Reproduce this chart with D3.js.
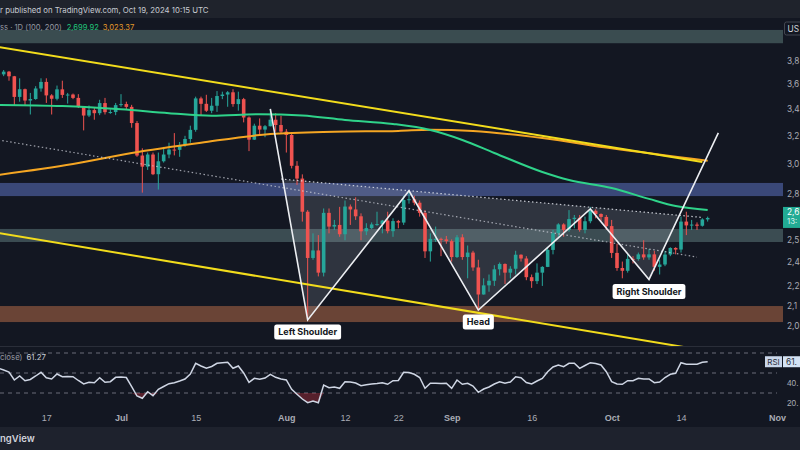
<!DOCTYPE html>
<html><head><meta charset="utf-8">
<script src="https://cdn.jsdelivr.net/npm/d3@7"></script>
<style>
html,body{margin:0;padding:0;background:#131722;}
svg{display:block;font-family:Inter,"Noto Sans",sans-serif;}
</style></head><body>
<svg id="c" width="800" height="450"></svg>
<script>
// ---------------- DATA ----------------
const firstDay = "2024-06-08", lastDay = "2024-10-19";
const opens = [3690,3683,3706,3667,3498,3560,3469,3481,3566,3620,3510,3483,3559,3514,3517,3490,3418,3352,3394,3370,3449,3378,3379,3433,3441,3419,3295,3059,2982,3066,2931,3019,3066,3101,3099,3134,3177,3244,3486,3443,3389,3428,3505,3517,3535,3441,3480,3337,3172,3275,3246,3271,3320,3280,3231,3206,2988,2902,2690,2420,2462,2340,2683,2600,2610,2555,2722,2704,2662,2572,2591,2613,2615,2636,2573,2633,2624,2763,2768,2746,2683,2457,2528,2528,2525,2515,2425,2537,2425,2450,2368,2226,2273,2297,2358,2387,2340,2361,2438,2417,2316,2295,2340,2371,2465,2561,2613,2580,2645,2653,2580,2632,2696,2676,2658,2603,2448,2365,2350,2415,2414,2440,2423,2440,2371,2384,2439,2476,2467,2630,2607,2612,2605,2643];
const highs = [3712,3720,3712,3670,3650,3565,3530,3585,3650,3650,3520,3590,3630,3530,3525,3520,3425,3430,3410,3475,3490,3400,3450,3520,3460,3435,3310,3110,3080,3080,3080,3120,3150,3220,3155,3200,3275,3500,3500,3515,3490,3545,3540,3545,3560,3540,3490,3345,3290,3330,3280,3400,3370,3350,3250,3220,3020,2930,2700,2560,2550,2710,2710,2640,2720,2760,2735,2780,2680,2620,2625,2690,2640,2690,2650,2640,2790,2820,2790,2760,2700,2560,2600,2535,2545,2525,2550,2555,2490,2460,2410,2310,2330,2380,2395,2390,2375,2460,2440,2430,2330,2390,2375,2480,2580,2620,2620,2700,2670,2670,2660,2720,2705,2680,2670,2640,2500,2400,2440,2430,2450,2520,2470,2460,2410,2460,2480,2480,2660,2690,2640,2625,2650,2660];
const lows = [3665,3668,3630,3430,3460,3430,3360,3475,3540,3450,3360,3470,3490,3445,3480,3410,3240,3340,3320,3355,3360,3365,3355,3420,3400,3260,3050,2810,2960,2925,2830,3010,3040,3060,3050,3120,3150,3230,3350,3380,3370,3380,3480,3420,3420,3390,3300,3090,3170,3200,3190,3270,3230,3220,3080,2970,2860,2630,2111,2410,2320,2320,2560,2580,2540,2520,2610,2640,2520,2550,2585,2605,2560,2560,2540,2590,2610,2740,2730,2660,2420,2400,2510,2430,2500,2400,2420,2410,2310,2350,2150,2225,2240,2270,2325,2280,2310,2330,2400,2300,2260,2280,2270,2370,2440,2540,2540,2570,2590,2570,2560,2620,2650,2630,2580,2420,2350,2310,2340,2390,2405,2410,2410,2350,2330,2375,2430,2440,2450,2550,2580,2580,2600,2630];
const closes = [3683,3706,3667,3498,3560,3469,3481,3566,3620,3510,3483,3559,3514,3517,3490,3418,3352,3394,3370,3449,3378,3379,3433,3441,3419,3295,3059,2982,3066,2931,3019,3066,3101,3099,3134,3177,3244,3486,3443,3389,3428,3505,3517,3535,3441,3480,3337,3172,3275,3246,3271,3320,3280,3231,3206,2988,2902,2690,2420,2462,2340,2683,2600,2610,2555,2722,2704,2662,2572,2591,2613,2615,2636,2573,2633,2624,2763,2768,2746,2683,2457,2528,2528,2525,2515,2425,2537,2425,2450,2368,2226,2273,2297,2358,2387,2340,2361,2438,2417,2316,2295,2340,2371,2465,2561,2613,2580,2645,2653,2580,2632,2696,2676,2658,2603,2448,2365,2350,2415,2414,2440,2423,2440,2371,2384,2439,2476,2467,2630,2607,2612,2605,2643,2652];
const rsiValues = [54.7,53,51,43,47,42.3,43.5,47,50.7,45.3,44,49,46.3,46.5,46.3,42.5,39,40.7,40.3,45.3,40.7,41.3,45.7,46,45.5,36.3,27,24.7,31.3,27.3,33.7,36.5,39.3,40.3,42,44,49,59.7,57,54.7,56.5,59.7,60.3,60.7,54.7,57,50,40.7,44.7,43.7,45,48.7,45.7,44,43,33.7,28.7,24,20.3,22,20.3,38,35.3,36,34.7,41.3,41,40,37.3,38.3,39,39.5,40.3,38.7,42.3,42.5,50.7,50.5,48.7,45.5,34.7,39.7,39.7,39.5,39.7,34.7,43,38.7,39.7,37,30.7,34,36,39,41.3,39.7,41,46.3,45.3,40.5,39,42,44.5,51.3,56,58,56.3,59.7,59.7,54.7,57.5,60.3,59.5,58,51.3,41.3,39,38.7,42.3,42.3,44.7,44,44,40.3,41,45.5,48.7,49.7,60.3,58.7,58.7,58.7,60.7,61.27];

const ma100Dates  = ["2024-06-08","2024-06-20","2024-07-01","2024-07-10","2024-07-18","2024-07-27","2024-08-04","2024-08-12","2024-08-21","2024-08-28","2024-09-03","2024-09-09","2024-09-18","2024-09-23","2024-10-01","2024-10-08","2024-10-13","2024-10-19"];
const ma100Values = [3434,3425,3400,3370,3350,3362,3352,3318,3288,3243,3170,3077,2946,2892,2840,2770,2725,2699.92];
const ma200Dates  = ["2024-06-08","2024-06-22","2024-07-03","2024-07-16","2024-07-29","2024-08-10","2024-08-22","2024-08-28","2024-09-05","2024-09-18","2024-10-01","2024-10-19"];
const ma200Values = [2926,3000,3077,3150,3213,3230,3236,3245,3236,3184,3110,3023.37];

// user drawings (date, price)
const upperTrendDates = ["2024-06-08","2024-10-18"], upperTrendPrices = [3921,3014];
const lowerTrendDates = ["2024-06-08","2024-10-15"], lowerTrendPrices = [2562,1972];
const midTrendDates   = ["2024-06-08","2024-10-17"], midTrendPrices   = [3170,2425];
const necklineDates   = ["2024-07-31","2024-10-18"], necklinePrices   = [2899,2655];
const patternDates  = ["2024-07-29","2024-08-05","2024-08-24","2024-09-06","2024-09-27","2024-10-08","2024-10-21"];
const patternPrices = [3403,2100,2822,2148,2707,2304,3221];
const patternLabels = [null,"Left Shoulder",null,"Head",null,"Right Shoulder",null];

// zones (price bands)
const zoneLow  = [3955,2788,2510,2090];
const zoneHigh = [4077,2873,2586,2168];
const zoneColors = ["#3a4c50","#3a4878","#3b4c52","#6a4436"];

// axis ticks (the screenshot is cropped at the right edge: only the first characters show)
const priceTicks = [3800,3600,3400,3200,3000,2800,2520,2400,2270,2170,2070];
const timeTickDates  = ["2024-06-17","2024-07-01","2024-07-15","2024-08-01","2024-08-12","2024-08-22","2024-09-01","2024-09-16","2024-10-01","2024-10-14","2024-11-01"];
const timeTickLabels = ["17","Jul","15","Aug","12","22","Sep","16","Oct","14","Nov"];
const rsiTicks = [40,20];
const rsiLevels = [70,50,30];

const headerText = "r published on TradingView.com, Oct 19, 2024 10:15 UTC";
const legendText = "ss · 1D (100, 200)";
const rsiLegendText = "close)";
const currencyText = "US";
const lastPriceText = "2,6", countdownText = "13:";
const logoText = "ngView";

// ---------------- DRAW ----------------
const P = d3.utcParse("%Y-%m-%d");
const svg = d3.select("#c");
const plotR = 783, paneTop = 18, paneBot = 346, rsiTop = 347, rsiBot = 410;
const crop = s => s.slice(0, 3);

const x = d3.scaleUtc().domain([P("2024-07-01"), P("2024-11-01")]).range([121, 777]);
const y = d3.scaleLog().domain([2800, 3800]).range([194.2, 60.7]);
const yR = d3.scaleLinear().domain([0, 100]).range([423, 323]);

const days = d3.utcDay.range(P(firstDay), d3.utcDay.offset(P(lastDay), 1));
const candles = days.map((d, i) => ({d, o: opens[i], h: highs[i], l: lows[i], c: closes[i], r: rsiValues[i]}));

svg.append("rect").attr("width", 800).attr("height", 450).attr("fill", "#131722");

const defs = svg.append("defs");
defs.append("clipPath").attr("id", "mainClip").append("rect").attr("x", 0).attr("y", paneTop).attr("width", plotR).attr("height", paneBot - paneTop);
defs.append("clipPath").attr("id", "rsiClip").append("rect").attr("x", 0).attr("y", rsiTop).attr("width", plotR).attr("height", rsiBot - rsiTop);

const main = svg.append("g").attr("clip-path", "url(#mainClip)");

// zones
main.selectAll("rect.zone").data(zoneLow).join("rect").attr("class", "zone")
  .attr("x", 0).attr("width", plotR)
  .attr("y", (d, i) => y(zoneHigh[i])).attr("height", (d, i) => y(zoneLow[i]) - y(zoneHigh[i]))
  .attr("fill", (d, i) => zoneColors[i]);

// pattern points in pixels
const pts = patternDates.map((d, i) => [x(P(d)), y(patternPrices[i])]);
const nk = necklineDates.map((d, i) => [x(P(d)), y(necklinePrices[i])]);
function intersect(a, b, c, d) {
  const den = (a[0]-b[0])*(c[1]-d[1]) - (a[1]-b[1])*(c[0]-d[0]);
  const t = ((a[0]-c[0])*(c[1]-d[1]) - (a[1]-c[1])*(c[0]-d[0])) / den;
  return [a[0] + t*(b[0]-a[0]), a[1] + t*(b[1]-a[1])];
}
const n0 = intersect(pts[0], pts[1], nk[0], nk[1]);
const n1 = intersect(pts[5], pts[6], nk[0], nk[1]);
main.append("path").attr("d", d3.line()([n0, pts[1], pts[2], pts[3], pts[4], pts[5], n1]) + "Z")
  .attr("fill", "rgba(190,195,210,0.17)");

// candles
const cg = main.append("g");
const up = "#26a69a", dn = "#ef5350";
cg.selectAll("line.wick").data(candles).join("line")
  .attr("x1", d => x(d.d)).attr("x2", d => x(d.d))
  .attr("y1", d => y(d.h)).attr("y2", d => y(d.l))
  .attr("stroke", d => d.c >= d.o ? up : dn).attr("stroke-width", 1);
cg.selectAll("rect.body").data(candles).join("rect")
  .attr("x", d => x(d.d) - 1.8).attr("width", 3.6)
  .attr("y", d => y(Math.max(d.o, d.c)))
  .attr("height", d => Math.max(1, Math.abs(y(d.o) - y(d.c))))
  .attr("fill", d => d.c >= d.o ? up : dn);

// moving averages
const maLine = d3.line().x(d => x(P(d[0]))).y(d => y(d[1])).curve(d3.curveMonotoneX);
main.append("path").attr("d", maLine(ma200Dates.map((d, i) => [d, ma200Values[i]])))
  .attr("fill", "none").attr("stroke", "#f5a623").attr("stroke-width", 2);
main.append("path").attr("d", maLine(ma100Dates.map((d, i) => [d, ma100Values[i]])))
  .attr("fill", "none").attr("stroke", "#2fd38a").attr("stroke-width", 2);

// trend lines
const seg = (ds, ps) => d3.line()(ds.map((d, i) => [x(P(d)), y(ps[i])]));
main.append("path").attr("d", seg(upperTrendDates, upperTrendPrices)).attr("stroke", "#f2dc1c").attr("stroke-width", 2).attr("fill", "none");
main.append("path").attr("d", seg(lowerTrendDates, lowerTrendPrices)).attr("stroke", "#f2dc1c").attr("stroke-width", 2).attr("fill", "none");
main.append("path").attr("d", seg(midTrendDates, midTrendPrices)).attr("stroke", "rgba(205,208,218,0.75)").attr("stroke-width", 1.2).attr("stroke-dasharray", "1.5,2.5").attr("fill", "none");
main.append("path").attr("d", seg(necklineDates, necklinePrices)).attr("stroke", "rgba(225,228,235,0.85)").attr("stroke-width", 1.2).attr("stroke-dasharray", "1.5,2.5").attr("fill", "none");

// pattern polyline
main.append("path").attr("d", d3.line()(pts)).attr("fill", "none").attr("stroke", "#eceef2").attr("stroke-width", 1.6);

// labels
patternLabels.forEach((lab, i) => {
  if (!lab) return;
  const g = svg.append("g").attr("transform", `translate(${pts[i][0]},${pts[i][1] + 12})`);
  const t = g.append("text").text(lab).attr("text-anchor", "middle").attr("dy", "0.35em")
    .attr("font-size", 9).attr("font-weight", 700).attr("fill", "#131722");
  const w = t.node().getComputedTextLength();
  g.insert("rect", "text").attr("x", -w / 2 - 4).attr("y", -7.5).attr("width", w + 8).attr("height", 15)
    .attr("rx", 2.5).attr("fill", "#ffffff");
});

// price axis
const pAxis = svg.append("g").attr("transform", `translate(${plotR},0)`)
  .call(d3.axisRight(y).tickValues(priceTicks).tickFormat(d => crop(d3.format(",")(d))).tickSize(0).tickPadding(4));
pAxis.select(".domain").remove();
pAxis.selectAll("text").attr("fill", "#a9acb5").attr("font-size", 8.3).attr("font-family", "Inter,sans-serif");

// currency box
svg.append("rect").attr("x", 784.5).attr("y", 22).attr("width", 20).attr("height", 13).attr("rx", 2).attr("fill", "#131722").attr("stroke", "#434651");
svg.append("text").attr("x", 787.5).attr("y", 31.5).text(currencyText).attr("fill", "#d1d4dc").attr("font-size", 8.3);

// last price label
const lp = y(closes[closes.length - 1]);
svg.append("rect").attr("x", plotR).attr("y", lp - 11).attr("width", 20).attr("height", 21).attr("fill", "#22ab94");
svg.append("text").attr("x", 787).attr("y", lp - 2.5).text(lastPriceText).attr("fill", "#fff").attr("font-size", 8.3);
svg.append("text").attr("x", 787).attr("y", lp + 6.5).text(countdownText).attr("fill", "#d8f3ee").attr("font-size", 7.8);

// top header strip
svg.append("rect").attr("width", 800).attr("height", paneTop).attr("fill", "#1f232c");
svg.append("text").attr("x", 0).attr("y", 12.5).text(headerText).attr("fill", "#c8cbd2").attr("font-size", 7.8);
// legend
const lg = svg.append("text").attr("x", 0).attr("y", 30).attr("font-size", 7.6);
lg.append("tspan").text(legendText).attr("fill", "#9598a1");
lg.append("tspan").attr("dx", 5).text(d3.format(",.2f")(ma100Values[ma100Values.length - 1])).attr("fill", "#22c47a");
lg.append("tspan").attr("dx", 4).text(d3.format(",.2f")(ma200Values[ma200Values.length - 1])).attr("fill", "#e39a2b");

// pane separator
svg.append("line").attr("x1", 0).attr("x2", 800).attr("y1", paneBot + 0.5).attr("y2", paneBot + 0.5).attr("stroke", "#2a2e39");

// RSI pane
const rg = svg.append("g").attr("clip-path", "url(#rsiClip)");
rg.selectAll("line.lvl").data(rsiLevels).join("line")
  .attr("x1", 0).attr("x2", 777).attr("y1", d => yR(d)).attr("y2", d => yR(d))
  .attr("stroke", "#6a6d78").attr("stroke-dasharray", "4,4").attr("stroke-width", 1);
rg.append("path").datum(candles)
  .attr("d", d3.area().x(d => x(d.d)).y0(yR(30)).y1(d => yR(Math.min(d.r, 30))))
  .attr("fill", "rgba(242,54,69,0.3)");
rg.append("path").datum(candles)
  .attr("d", d3.line().x(d => x(d.d)).y(d => yR(d.r)))
  .attr("fill", "none").attr("stroke", "#cfd6e4").attr("stroke-width", 1.5);

const rAxis = svg.append("g").attr("transform", `translate(${plotR},0)`)
  .call(d3.axisRight(yR).tickValues(rsiTicks).tickFormat(d => crop(d3.format(".2f")(d))).tickSize(0).tickPadding(4));
rAxis.select(".domain").remove();
rAxis.selectAll("text").attr("fill", "#a9acb5").attr("font-size", 8.3);

// RSI legend
const rl = svg.append("text").attr("x", 0).attr("y", 360).attr("font-size", 7.8);
rl.append("tspan").text(rsiLegendText).attr("fill", "#9598a1");
rl.append("tspan").attr("dx", 4).text(d3.format(".2f")(rsiValues[rsiValues.length - 1])).attr("fill", "#c8ccd6");
// RSI label on scale
const rv = yR(rsiValues[rsiValues.length - 1]);
svg.append("rect").attr("x", 765).attr("y", rv - 5.5).attr("width", 17).attr("height", 11).attr("fill", "#c9d6ea");
svg.append("text").attr("x", 773.5).attr("y", rv + 3).attr("text-anchor", "middle").text("RSI").attr("fill", "#2a2e39").attr("font-size", 8);
svg.append("rect").attr("x", 783).attr("y", rv - 5.5).attr("width", 20).attr("height", 11).attr("fill", "#d4e2f4");
svg.append("text").attr("x", 786).attr("y", rv + 3.2).text(crop(d3.format(".2f")(rsiValues[rsiValues.length - 1]))).attr("fill", "#2a2e39").attr("font-size", 8.3);

// time axis
const tAxis = svg.append("g").attr("transform", `translate(0,${rsiBot + 3})`)
  .call(d3.axisBottom(x).tickValues(timeTickDates.map(P)).tickFormat((d, i) => timeTickLabels[i]).tickSize(0).tickPadding(2));
tAxis.select(".domain").remove();
tAxis.selectAll("text").attr("fill", "#a9acb5").attr("font-size", 9)
  .attr("font-weight", (d, i) => /^[A-Z]/.test(timeTickLabels[i]) ? 700 : 400);

// bottom strip
svg.append("rect").attr("x", 0).attr("y", 427).attr("width", 800).attr("height", 23).attr("fill", "#1e222d");
svg.append("text").attr("x", 0).attr("y", 442).text(logoText).attr("fill", "#d1d4dc").attr("font-size", 9.5).attr("font-weight", 600);
</script>
</body></html>
